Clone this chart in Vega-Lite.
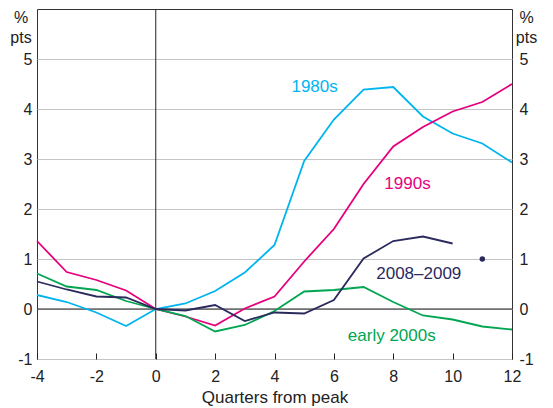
{
  "$schema": "https://vega.github.io/schema/vega-lite/v6.json",
  "width": 475,
  "height": 350,
  "autosize": "none",
  "padding": {"left": 37, "top": 9, "right": 41, "bottom": 49},
  "background": "white",
  "config": {
    "font": "Liberation Sans",
    "view": {"stroke": "#333333", "strokeWidth": 1},
    "axis": {"labelFont": "Liberation Sans", "titleFont": "Liberation Sans", "labelFontSize": 16, "titleFontSize": 16, "labelColor": "#222222", "titleColor": "#222222", "titleFontWeight": "normal"}
  },
  "datasets": {
    "series": [
      {"q": -4, "v": 0.28, "s": "1980s"}, {"q": -3, "v": 0.14, "s": "1980s"}, {"q": -2, "v": -0.07, "s": "1980s"}, {"q": -1, "v": -0.34, "s": "1980s"}, {"q": 0, "v": 0, "s": "1980s"}, {"q": 1, "v": 0.11, "s": "1980s"}, {"q": 2, "v": 0.36, "s": "1980s"}, {"q": 3, "v": 0.73, "s": "1980s"}, {"q": 4, "v": 1.28, "s": "1980s"}, {"q": 5, "v": 2.96, "s": "1980s"}, {"q": 6, "v": 3.79, "s": "1980s"}, {"q": 7, "v": 4.39, "s": "1980s"}, {"q": 8, "v": 4.44, "s": "1980s"}, {"q": 9, "v": 3.85, "s": "1980s"}, {"q": 10, "v": 3.51, "s": "1980s"}, {"q": 11, "v": 3.31, "s": "1980s"}, {"q": 12, "v": 2.93, "s": "1980s"},
      {"q": -4, "v": 1.36, "s": "1990s"}, {"q": -3, "v": 0.74, "s": "1990s"}, {"q": -2, "v": 0.58, "s": "1990s"}, {"q": -1, "v": 0.37, "s": "1990s"}, {"q": 0, "v": 0, "s": "1990s"}, {"q": 1, "v": -0.15, "s": "1990s"}, {"q": 2, "v": -0.33, "s": "1990s"}, {"q": 3, "v": 0.01, "s": "1990s"}, {"q": 4, "v": 0.25, "s": "1990s"}, {"q": 5, "v": 0.95, "s": "1990s"}, {"q": 6, "v": 1.6, "s": "1990s"}, {"q": 7, "v": 2.5, "s": "1990s"}, {"q": 8, "v": 3.25, "s": "1990s"}, {"q": 9, "v": 3.64, "s": "1990s"}, {"q": 10, "v": 3.95, "s": "1990s"}, {"q": 11, "v": 4.14, "s": "1990s"}, {"q": 12, "v": 4.5, "s": "1990s"},
      {"q": -4, "v": 0.71, "s": "early 2000s"}, {"q": -3, "v": 0.45, "s": "early 2000s"}, {"q": -2, "v": 0.38, "s": "early 2000s"}, {"q": -1, "v": 0.16, "s": "early 2000s"}, {"q": 0, "v": 0, "s": "early 2000s"}, {"q": 1, "v": -0.14, "s": "early 2000s"}, {"q": 2, "v": -0.45, "s": "early 2000s"}, {"q": 3, "v": -0.32, "s": "early 2000s"}, {"q": 4, "v": -0.04, "s": "early 2000s"}, {"q": 5, "v": 0.35, "s": "early 2000s"}, {"q": 6, "v": 0.38, "s": "early 2000s"}, {"q": 7, "v": 0.44, "s": "early 2000s"}, {"q": 8, "v": 0.14, "s": "early 2000s"}, {"q": 9, "v": -0.13, "s": "early 2000s"}, {"q": 10, "v": -0.21, "s": "early 2000s"}, {"q": 11, "v": -0.35, "s": "early 2000s"}, {"q": 12, "v": -0.41, "s": "early 2000s"},
      {"q": -4, "v": 0.55, "s": "2008–2009"}, {"q": -3, "v": 0.39, "s": "2008–2009"}, {"q": -2, "v": 0.25, "s": "2008–2009"}, {"q": -1, "v": 0.23, "s": "2008–2009"}, {"q": 0, "v": 0, "s": "2008–2009"}, {"q": 1, "v": -0.03, "s": "2008–2009"}, {"q": 2, "v": 0.08, "s": "2008–2009"}, {"q": 3, "v": -0.24, "s": "2008–2009"}, {"q": 4, "v": -0.07, "s": "2008–2009"}, {"q": 5, "v": -0.09, "s": "2008–2009"}, {"q": 6, "v": 0.18, "s": "2008–2009"}, {"q": 7, "v": 1.01, "s": "2008–2009"}, {"q": 8, "v": 1.36, "s": "2008–2009"}, {"q": 9, "v": 1.45, "s": "2008–2009"}, {"q": 10, "v": 1.31, "s": "2008–2009"}
    ],
    "dot": [{"q": 11, "v": 1.0, "s": "2008–2009"}],
    "labels": [
      {"q": 5.35, "v": 4.44, "s": "1980s", "t": "1980s"},
      {"q": 8.48, "v": 2.5, "s": "1990s", "t": "1990s"},
      {"q": 8.86, "v": 0.7, "s": "2008–2009", "t": "2008–2009"},
      {"q": 7.95, "v": -0.54, "s": "early 2000s", "t": "early 2000s"}
    ],
    "zero": [{"v": 0, "q": 0}]
  },
  "resolve": {"axis": {"y": "independent"}},
  "layer": [
    {
      "data": {"name": "zero"},
      "mark": {"type": "rule", "color": "#222222", "strokeWidth": 1},
      "encoding": {
        "y": {"field": "v", "type": "quantitative", "scale": {"domain": [-1, 6], "nice": false, "zero": false},
          "axis": {"orient": "right", "values": [-1, 0, 1, 2, 3, 4, 5], "labelExpr": "'' + datum.value", "grid": false, "ticks": false, "domain": false, "labelPadding": 7, "title": ["%", "pts"], "titleAngle": 0, "titleAlign": "center", "titleBaseline": "alphabetic", "titleX": 14, "titleY": 13.5, "titleLineHeight": 20}}
      }
    },
    {
      "data": {"name": "zero"},
      "mark": {"type": "rule", "color": "#222222", "strokeWidth": 1},
      "encoding": {
        "x": {"field": "q", "type": "quantitative", "scale": {"domain": [-4, 12], "nice": false, "zero": false},
          "axis": {"values": [-4, -3, -2, -1, 0, 1, 2, 3, 4, 5, 6, 7, 8, 9, 10, 11, 12], "labelExpr": "datum.value % 2 === 0 ? '' + datum.value : ''", "labelFlush": false, "grid": false, "domain": false, "tickSize": -6, "tickColor": "#222222", "labelPadding": 15, "title": "Quarters from peak", "titleFontSize": 17, "titlePadding": 5}}
      }
    },
    {
      "data": {"name": "series"},
      "mark": {"type": "line", "strokeWidth": 1.8},
      "encoding": {
        "x": {"field": "q", "type": "quantitative"},
        "y": {"field": "v", "type": "quantitative",
          "axis": {"orient": "left", "values": [-1, 0, 1, 2, 3, 4, 5], "labelExpr": "'' + datum.value", "grid": true, "gridColor": "#c4c4c4", "gridWidth": 1, "ticks": false, "domain": false, "labelPadding": 5, "title": ["%", "pts"], "titleAngle": 0, "titleAlign": "center", "titleBaseline": "alphabetic", "titleX": -16.5, "titleY": 13.5, "titleLineHeight": 20}},
        "color": {"field": "s", "type": "nominal", "legend": null,
          "scale": {"domain": ["1980s", "1990s", "early 2000s", "2008–2009"], "range": ["#00B5EF", "#E6007E", "#00A651", "#2B2A5E"]}},
        "order": {"field": "q", "type": "quantitative"}
      }
    },
    {
      "data": {"name": "dot"},
      "mark": {"type": "circle", "size": 30, "opacity": 1},
      "encoding": {
        "x": {"field": "q", "type": "quantitative"},
        "y": {"field": "v", "type": "quantitative", "axis": null},
        "color": {"field": "s", "type": "nominal", "legend": null}
      }
    },
    {
      "data": {"name": "labels"},
      "mark": {"type": "text", "fontSize": 17, "align": "center", "baseline": "middle"},
      "encoding": {
        "x": {"field": "q", "type": "quantitative"},
        "y": {"field": "v", "type": "quantitative", "axis": null},
        "text": {"field": "t"},
        "color": {"field": "s", "type": "nominal", "legend": null}
      }
    }
  ]
}
